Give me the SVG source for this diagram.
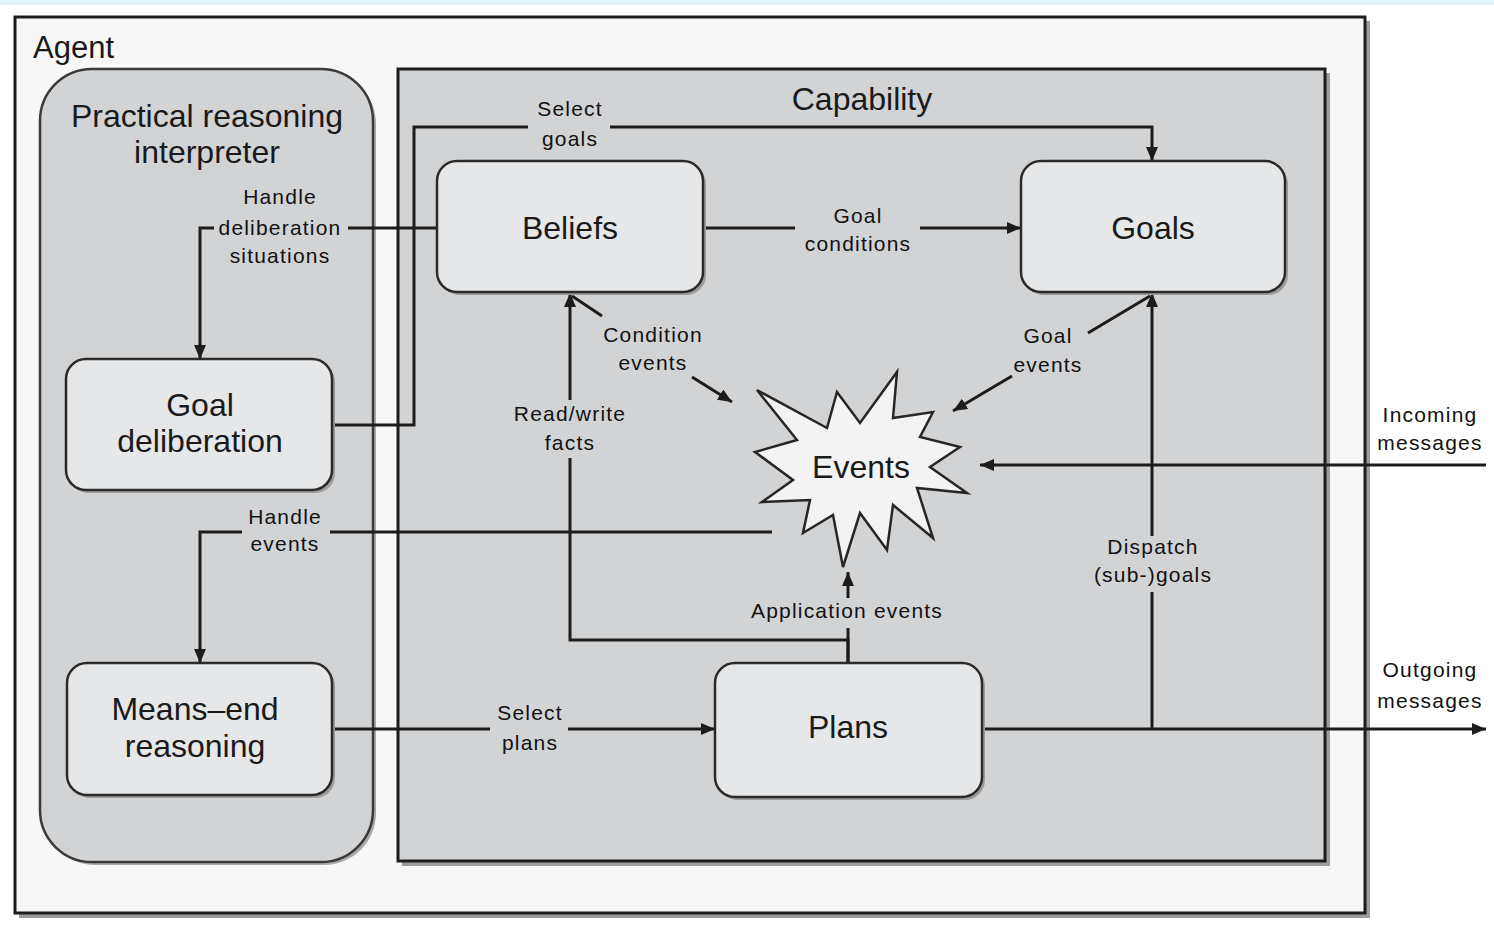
<svg xmlns="http://www.w3.org/2000/svg" width="1494" height="925" viewBox="0 0 1494 925">
  <style>
    .frame { stroke: #1c1c1c; stroke-width: 3; }
    .shadow { fill: #9c9c9c; }
    .node { fill: #e6e7e8; stroke: #2a2a2a; stroke-width: 2.5; }
    .title { font-family: "Liberation Sans", Arial, sans-serif; font-size: 31px; fill: #1a1a1a; }
    .nlabel { font-family: "Liberation Sans", Arial, sans-serif; font-size: 32px; fill: #1a1a1a; text-anchor: middle; }
    .elabel { font-family: "Liberation Sans", Arial, sans-serif; font-size: 21px; letter-spacing: 1.2px; fill: #111111; text-anchor: middle; }
    .wire { fill: none; stroke: #1c1c1c; stroke-width: 3; }
    .arrow { marker-end: url(#head); }
  </style>
  <defs>
    <marker id="head" viewBox="0 0 14 12" refX="14" refY="6" markerWidth="14" markerHeight="12" markerUnits="userSpaceOnUse" orient="auto">
      <path d="M0,0 L14,6 L0,12 z" fill="#1c1c1c"/>
    </marker>
  </defs>

  <!-- page background -->
  <rect x="0" y="0" width="1494" height="925" fill="#ffffff"/>
  <rect x="0" y="0" width="1494" height="5" fill="#e4f2fb"/>

  <!-- Agent container -->
  <g id="agent">
    <rect class="shadow" x="19" y="21" width="1351" height="897"/>
    <rect class="frame" x="15" y="17" width="1350" height="896" fill="#f7f7f7"/>
    <text class="title" x="33" y="58">Agent</text>
  </g>

  <!-- Practical reasoning interpreter -->
  <g id="interpreter">
    <rect x="43" y="72" width="333" height="793" rx="52" fill="#a9a9a9"/>
    <rect x="40" y="69" width="333" height="793" rx="52" fill="#d2d3d5" stroke="#3a3a3a" stroke-width="2.5"/>
    <text class="nlabel" x="207" y="127">Practical reasoning</text>
    <text class="nlabel" x="207" y="163">interpreter</text>
  </g>

  <!-- Capability container -->
  <g id="capability">
    <rect class="shadow" x="402" y="73" width="928" height="793"/>
    <rect class="frame" x="398" y="69" width="927" height="792" fill="#d2d3d5"/>
    <text class="nlabel" x="862" y="110">Capability</text>
  </g>

  <!-- Connectors -->
  <g id="connectors">
    <!-- Select goals -->
    <path class="wire" d="M333,425 H414 V127 H528"/>
    <path class="wire arrow" d="M610,127 H1152 V161"/>
    <!-- Handle deliberation situations -->
    <path class="wire" d="M437,228 H348"/>
    <path class="wire arrow" d="M214,228 H200 V359"/>
    <!-- Goal conditions -->
    <path class="wire" d="M703,228 H795"/>
    <path class="wire arrow" d="M920,228 H1021"/>
    <!-- Condition events -->
    <path class="wire" d="M572,296 L602,316"/>
    <path class="wire arrow" d="M692,377 L732,402"/>
    <!-- Goal events -->
    <path class="wire" d="M1150,296 L1088,333"/>
    <path class="wire arrow" d="M1012,376 L953,411"/>
    <!-- Read/write facts -->
    <path class="wire" d="M848,663 V640 H570 V458"/>
    <path class="wire arrow" d="M570,400 V293"/>
    <!-- Application events -->
    <path class="wire" d="M848,663 V628"/>
    <path class="wire arrow" d="M848,598 V572"/>
    <!-- Handle events -->
    <path class="wire" d="M772,532 H330"/>
    <path class="wire arrow" d="M242,532 H200 V663"/>
    <!-- Incoming messages -->
    <path class="wire arrow" d="M1486,465 H980"/>
    <!-- Outgoing messages -->
    <path class="wire arrow" d="M982,729 H1486"/>
    <!-- Dispatch (sub-)goals -->
    <path class="wire" d="M1152,729 V592"/>
    <path class="wire arrow" d="M1152,536 V293"/>
    <!-- Select plans -->
    <path class="wire" d="M333,729 H490"/>
    <path class="wire arrow" d="M568,729 H715"/>

    <text class="elabel" x="570" y="116">Select</text>
    <text class="elabel" x="570" y="146">goals</text>
    <text class="elabel" x="280" y="204">Handle</text>
    <text class="elabel" x="280" y="235">deliberation</text>
    <text class="elabel" x="280" y="263">situations</text>
    <text class="elabel" x="858" y="223">Goal</text>
    <text class="elabel" x="858" y="251">conditions</text>
    <text class="elabel" x="653" y="342">Condition</text>
    <text class="elabel" x="653" y="370">events</text>
    <text class="elabel" x="1048" y="343">Goal</text>
    <text class="elabel" x="1048" y="372">events</text>
    <text class="elabel" x="570" y="421">Read/write</text>
    <text class="elabel" x="570" y="450">facts</text>
    <text class="elabel" x="1430" y="422">Incoming</text>
    <text class="elabel" x="1430" y="450">messages</text>
    <text class="elabel" x="285" y="524">Handle</text>
    <text class="elabel" x="285" y="551">events</text>
    <text class="elabel" x="1153" y="554">Dispatch</text>
    <text class="elabel" x="1153" y="582">(sub-)goals</text>
    <text class="elabel" x="847" y="618">Application events</text>
    <text class="elabel" x="1430" y="677">Outgoing</text>
    <text class="elabel" x="1430" y="708">messages</text>
    <text class="elabel" x="530" y="720">Select</text>
    <text class="elabel" x="530" y="750">plans</text>
  </g>

  <!-- Nodes -->
  <g id="beliefs">
    <rect class="shadow" x="440" y="164" width="266" height="131" rx="20"/>
    <rect class="node" x="437" y="161" width="266" height="131" rx="20"/>
    <text class="nlabel" x="570" y="239">Beliefs</text>
  </g>
  <g id="goals">
    <rect class="shadow" x="1024" y="164" width="264" height="131" rx="20"/>
    <rect class="node" x="1021" y="161" width="264" height="131" rx="20"/>
    <text class="nlabel" x="1153" y="239">Goals</text>
  </g>
  <g id="goal-deliberation">
    <rect class="shadow" x="69" y="362" width="266" height="131" rx="20"/>
    <rect class="node" x="66" y="359" width="266" height="131" rx="20"/>
    <text class="nlabel" x="200" y="416">Goal</text>
    <text class="nlabel" x="200" y="452">deliberation</text>
  </g>
  <g id="means-end">
    <rect class="shadow" x="70" y="666" width="265" height="132" rx="20"/>
    <rect class="node" x="67" y="663" width="265" height="132" rx="20"/>
    <text class="nlabel" x="195" y="720">Means–end</text>
    <text class="nlabel" x="195" y="757">reasoning</text>
  </g>
  <g id="plans">
    <rect class="shadow" x="718" y="666" width="267" height="134" rx="20"/>
    <rect class="node" x="715" y="663" width="267" height="134" rx="20"/>
    <text class="nlabel" x="848" y="738">Plans</text>
  </g>
  <g id="events">
    <polygon points="897,372 893,418 933,412 920,437 960,447 930,467 967,493 917,488 933,538 893,505 887,550 860,513 843,567 833,515 803,533 810,500 762,502 793,480 755,452 797,440 757,390 827,428 837,392 860,423" fill="#f3f3f3" stroke="#262626" stroke-width="2.5" stroke-linejoin="miter"/>
    <text class="nlabel" x="861" y="478">Events</text>
  </g>
</svg>
